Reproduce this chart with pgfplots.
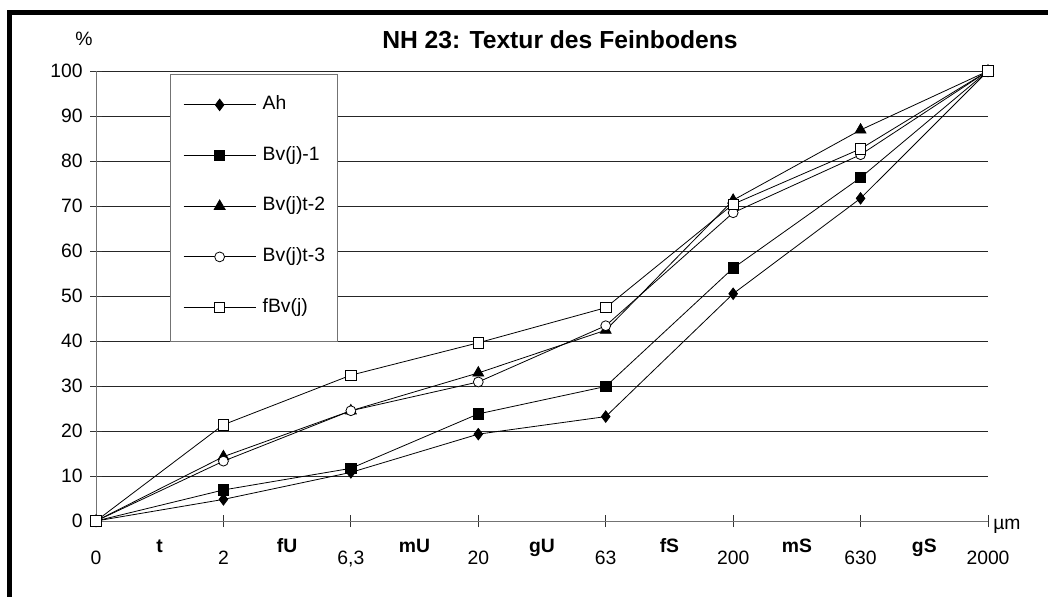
\documentclass[border=0pt]{standalone}
\usepackage{pgfplots}
\pgfplotsset{compat=1.18}
\usepackage{fontspec}
\setmainfont{Liberation Sans}
\begin{document}
\begin{tikzpicture}[x=0.75pt,y=0.75pt]
\useasboundingbox (0,0) rectangle (1048,596);
\draw[line width=3.3pt] (9.5,-5) -- (9.5,583.5) -- (1060,583.5);
\node[font=\fontsize{18.5}{21}\selectfont\bfseries] at (560,556.5) {NH 23: Textur des Feinbodens};
\node[font=\fontsize{14.5}{17}\selectfont] at (84,557) {\%};
\begin{axis}[
  at={(72pt,56.25pt)}, anchor=south west,
  scale only axis, width=669pt, height=337.5pt,
  xmin=0, xmax=7, ymin=0, ymax=100,
  enlargelimits=false, clip=false,
  axis x line*=bottom, axis y line*=left,
  axis line style={black!55, line width=0.7pt, -},
  ymajorgrids, grid style={black!85, line width=0.7pt},
  xtick={0,...,7},
  xticklabels={0,2,{6,3},20,63,200,630,2000},
  ytick={0,10,...,100},
  tick align=center,
  major tick length=9pt,
  tick style={black!80, line width=0.6pt},
  /pgf/number format/assume math mode=true,
  ticklabel style={font=\fontsize{14.5}{17}\selectfont},
  xticklabel style={anchor=center, inner sep=0pt, text height=10.4pt, text depth=0pt, yshift=-23.25pt},
  yticklabel style={anchor=east, inner sep=0pt, xshift=-5.3pt},
  extra x ticks={0.5,1.5,2.5,3.5,4.5,5.5,6.5},
  extra x tick labels={t,fU,mU,gU,fS,mS,gS},
  extra x tick style={major tick length=0pt, xticklabel style={font=\fontsize{14.5}{17}\selectfont\bfseries, yshift=4.5pt}},
  legend style={at={(0.0975,0.946)}, anchor=north west, draw=none, fill=none,
    inner sep=0pt, row sep=24pt, font=\fontsize{14.5}{17}\selectfont,
    nodes={inner sep=0pt, text height=10.5pt, text depth=3.5pt},
    /tikz/every odd column/.append style={column sep=5pt}},
  legend cell align=left,
  legend image code/.code={\draw[mark repeat=2,mark phase=2] plot coordinates {(0pt,0pt) (27pt,0pt) (54pt,0pt)};},
  every axis plot/.append style={black, line width=0.6pt},
]
\filldraw[draw=black!55, fill=white, line width=0.7pt] (axis cs:0.581,99.33) rectangle (axis cs:1.891,40);
\addplot[mark=diamond*, mark size=4.3pt, mark options={fill=black}] coordinates {(0,0) (1,4.8) (2,10.8) (3,19.3) (4,23.2) (5,50.5) (6,71.7) (7,100)};
\addlegendentry{Ah}
\addplot[mark=square*, mark size=3.9pt, mark options={fill=black}] coordinates {(0,0) (1,6.9) (2,11.7) (3,23.8) (4,29.9) (5,56.2) (6,76.3) (7,100)};
\addlegendentry{Bv(j)-1}
\addplot[mark=triangle*, mark size=4.7pt, mark options={fill=black}] coordinates {(0,0) (1,14.3) (2,24.5) (3,32.9) (4,42.4) (5,71.3) (6,86.9) (7,100)};
\addlegendentry{Bv(j)t-2}
\addplot[mark=*, mark size=3.7pt, mark options={fill=white}] coordinates {(0,0) (1,13.3) (2,24.5) (3,30.9) (4,43.4) (5,68.5) (6,81.4) (7,100)};
\addlegendentry{Bv(j)t-3}
\addplot[mark=square*, mark size=3.9pt, mark options={fill=white}] coordinates {(0,0) (1,21.4) (2,32.4) (3,39.6) (4,47.4) (5,70.4) (6,82.7) (7,100)};
\addlegendentry{fBv(j)}
\node[anchor=west, font=\fontsize{14.5}{17}\selectfont, inner sep=0pt] at (axis cs:7,0) [xshift=3.8pt, yshift=-3.7pt] {µm};
\end{axis}
\end{tikzpicture}
\end{document}
